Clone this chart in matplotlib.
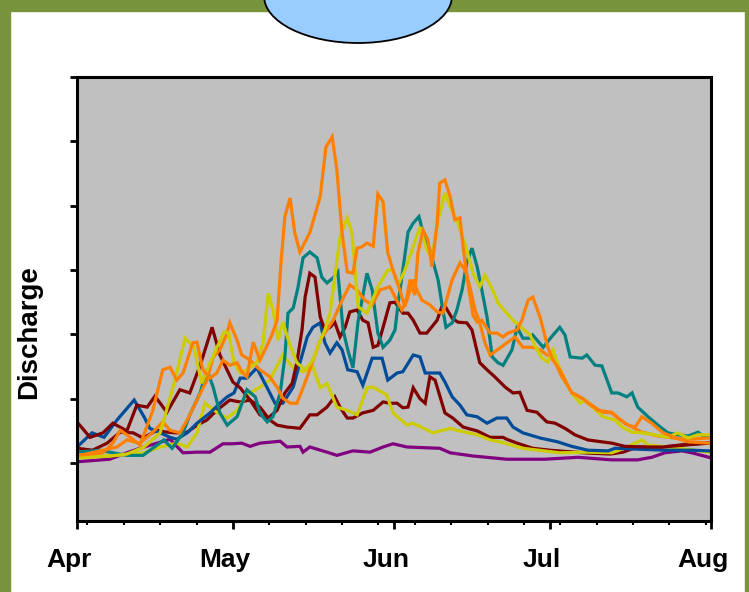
import matplotlib
matplotlib.use("Agg")
import matplotlib.pyplot as plt
from matplotlib.patches import Rectangle, Ellipse
import matplotlib.transforms as mtransforms

plt.rcParams['font.family'] = ['Liberation Sans', 'DejaVu Sans']

# x = days since April 1, y = discharge (arbitrary units, tick every 100)
month_ticks = [0, 30, 61, 91, 122]
month_labels = ["Apr", "May", "Jun", "Jul", "Aug"]
week_ticks = [2, 9, 16, 23, 37, 44, 51, 58, 65, 72, 79, 86, 93, 100, 107, 114, 121]

purple_d = [0, 6.3, 9.6, 12.1, 15.4, 17.9, 20.4, 23.1, 25.6, 28.1, 30, 31.7, 33.3, 35.2, 39.1, 40.4, 42.9, 43.5, 44.8, 48.1, 50, 53.1, 56.4, 58.9, 60.8, 63.5, 69.8, 71.8, 76.2, 82.7, 90, 96.4, 102.9, 107.9, 110.6, 113.1, 116.4, 118.3, 121.6]
purple_v = [2, 6, 16, 23, 31, 37, 16, 17, 17, 30, 30, 31, 26, 31, 34, 25, 26, 17, 25, 17, 12, 19, 17, 25, 30, 25, 23, 16, 11, 6, 6, 9, 5, 5, 9, 16, 19, 16, 9]

teal_d = [0, 4.4, 6.3, 9.6, 12.7, 15.4, 16.7, 18.3, 20.4, 21.7, 23.7, 25, 26.2, 27.5, 28.9, 30.8, 32.7, 34.3, 35.2, 36.6, 37.7, 39.1, 40, 40.6, 41.6, 42.5, 43.5, 44.8, 46.2, 47.1, 48.1, 49.3, 50.2, 51.2, 52.1, 53.1, 54.1, 55.8, 56.8, 57.9, 58.9, 60.2, 61.2, 61.8, 62.7, 63.7, 64.7, 65.8, 66.6, 67.9, 69.5, 70.4, 71, 72.2, 73.1, 74.1, 75, 76, 77, 77.9, 78.9, 79.9, 81, 82, 83.7, 84.7, 85.8, 87.2, 87.7, 89.7, 91.6, 92.9, 93.9, 94.9, 97.2, 98.1, 99.7, 101, 102.9, 104.1, 105.8, 106.8, 107.9, 109.9, 111.8, 113.7, 115.6, 117.6, 119.5, 120.5, 121.6]
teal_v = [17, 20, 17, 12, 12, 28, 36, 23, 47, 75, 109, 145, 118, 78, 59, 72, 114, 103, 78, 64, 72, 109, 165, 233, 241, 272, 319, 328, 319, 289, 280, 288, 297, 207, 176, 148, 221, 295, 269, 202, 180, 191, 207, 249, 300, 359, 373, 383, 358, 331, 284, 238, 211, 218, 238, 269, 311, 334, 305, 269, 227, 165, 156, 152, 176, 211, 194, 194, 199, 180, 199, 211, 199, 165, 163, 168, 152, 151, 109, 109, 103, 109, 87, 72, 59, 47, 44, 42, 48, 42, 40]

blue_d = [0, 2.9, 5.2, 7.7, 11, 12.9, 14, 16, 17.9, 19.2, 21.2, 23.1, 25.6, 27.5, 28.9, 30.2, 31.4, 32.7, 34.6, 36.6, 38.1, 39.6, 41.6, 42.9, 44.3, 45.4, 46.8, 47.7, 48.7, 50, 51, 52.1, 53.9, 55, 56.8, 58.7, 59.8, 61.6, 62.7, 64.7, 66, 67, 69.8, 70.8, 72.2, 73.7, 75, 77, 78.9, 80.8, 82.7, 83.9, 85.8, 89.1, 92.5, 95.2, 98.3, 102.2, 103.5, 106.8, 113.1, 118.3, 121.6]
blue_v = [25, 47, 40, 67, 98, 72, 54, 47, 40, 37, 47, 62, 78, 93, 103, 109, 132, 132, 148, 117, 93, 93, 118, 156, 196, 211, 218, 187, 171, 187, 176, 145, 142, 121, 163, 163, 129, 140, 142, 168, 165, 140, 140, 126, 103, 90, 75, 72, 62, 70, 70, 56, 47, 39, 33, 26, 20, 19, 23, 22, 20, 20, 19]

maroon1_d = [0, 2.5, 5, 6.9, 9.6, 11.5, 13.5, 15, 17.3, 19.8, 21.7, 23.7, 26, 27.5, 30, 31.4, 33.3, 35.2, 36.8, 38.5, 40, 41.4, 42.3, 43.3, 43.9, 44.8, 45.8, 46.8, 47.7, 48.7, 49.6, 50.6, 51.6, 52.5, 53.9, 55, 56, 57, 57.9, 58.9, 60.2, 61.2, 62.7, 63.7, 64.7, 66, 67.3, 69.3, 70.2, 70.8, 72.2, 73.3, 75, 76, 77.5, 78.9, 80.4, 82.4, 83.9, 85.2, 86.6, 88.5, 90.4, 92, 93.9, 95.8, 98.3, 101, 102.9, 105.4, 109.3, 112.6, 117, 121.6]
maroon1_v = [64, 40, 47, 62, 50, 90, 87, 104, 79, 114, 109, 152, 211, 168, 126, 117, 98, 75, 70, 82, 109, 124, 156, 207, 258, 295, 289, 227, 207, 211, 219, 196, 211, 235, 238, 222, 218, 180, 183, 211, 249, 250, 233, 233, 222, 202, 202, 222, 243, 244, 225, 219, 218, 207, 156, 145, 134, 118, 109, 110, 82, 79, 64, 62, 54, 44, 36, 33, 31, 26, 25, 25, 28, 31]

maroon2_d = [0, 3, 5.8, 8.3, 10.8, 12.7, 15.4, 17.3, 19.2, 21.2, 23.1, 25, 26.9, 29.4, 31.4, 33.3, 35.2, 37.1, 38.5, 40.4, 42.9, 44.8, 46.2, 48.1, 49.6, 50.6, 52, 53.1, 55, 57, 58.9, 60.2, 61.6, 62.7, 63.7, 64.7, 66, 67, 67.9, 68.9, 70.8, 72.3, 74.3, 77, 79.5, 82, 82.7, 84.7, 87.7, 91, 97.4, 102.6, 105.1, 107.8, 112.8, 118, 121.6]
maroon2_v = [23, 20, 31, 48, 47, 39, 51, 48, 47, 48, 59, 67, 82, 98, 95, 98, 87, 67, 59, 56, 54, 75, 75, 87, 103, 87, 70, 70, 78, 82, 95, 93, 93, 86, 87, 117, 100, 93, 134, 129, 78, 70, 56, 50, 40, 40, 37, 31, 23, 20, 16, 14, 17, 25, 25, 30, 31]

yellow1_d = [0, 6.3, 9.6, 12.9, 16, 18.7, 20.8, 22.5, 24, 25.6, 28.3, 29.2, 30.2, 31.4, 32.7, 34.6, 35.8, 36.8, 37.7, 38.7, 39.6, 41, 42.3, 43.9, 45.4, 46.8, 47.7, 48.7, 50.6, 52, 52.9, 54.1, 55.8, 57.9, 59.8, 60.8, 61.8, 63.1, 64.7, 66, 67.3, 68.3, 69.5, 70.8, 71.8, 73.1, 75, 76.2, 77.5, 78.5, 80, 81, 82.7, 83.9, 85.6, 87.2, 88.1, 89.5, 90.6, 91.6, 92.4, 93.9, 95.2, 96.8, 97.7, 99.3, 101.2, 103.5, 104.9, 106.8, 108.7, 111.2, 113.7, 115.6, 117.6, 119.5, 121.6]
yellow1_v = [9, 11, 14, 25, 47, 124, 194, 180, 124, 156, 204, 202, 156, 140, 145, 156, 187, 264, 238, 191, 219, 183, 156, 145, 160, 191, 207, 233, 351, 381, 358, 243, 233, 274, 300, 300, 277, 300, 336, 367, 331, 319, 378, 420, 398, 378, 331, 295, 274, 292, 269, 249, 233, 222, 210, 199, 183, 163, 157, 176, 157, 129, 109, 93, 98, 86, 72, 67, 56, 48, 47, 44, 40, 47, 39, 44, 44]

yellow2_d = [0, 6.3, 12.9, 16, 19.2, 21.2, 23.1, 24.6, 26.9, 28.9, 30.8, 32.7, 35.2, 37.1, 39.6, 41.6, 43.5, 45.4, 46.8, 48.1, 50, 52, 53.9, 55.8, 57, 59.6, 60.8, 63.5, 64.7, 68.5, 70.4, 71.8, 73.1, 77, 79.5, 81.4, 85.8, 92.9, 98.3, 102.9, 105.4, 107.4, 108.7, 109.9, 113.7, 118.9, 121.6]
yellow2_v = [8, 11, 16, 25, 31, 25, 47, 93, 79, 70, 82, 106, 118, 129, 168, 148, 142, 149, 117, 124, 87, 82, 75, 117, 118, 106, 78, 59, 62, 47, 51, 54, 51, 44, 36, 33, 23, 16, 17, 16, 23, 31, 36, 28, 25, 20, 17]

orange1_d = [0, 5, 6.9, 8.3, 9.6, 12.1, 14.6, 16.5, 17.9, 19.2, 20.4, 22.3, 23.1, 24.2, 25.6, 26.9, 28.1, 29.4, 30.8, 31.7, 32.7, 33.9, 35.2, 36.6, 37.5, 38.5, 39.3, 40, 41, 41.9, 42.9, 44.8, 46.8, 47.9, 49.1, 50, 51, 52, 53.1, 53.9, 54.8, 55.8, 57, 57.9, 58.9, 59.8, 60.8, 61.8, 63.1, 64.1, 65, 65.6, 66.6, 67.5, 68.3, 69.3, 69.8, 70.8, 71.8, 72.7, 73.7, 74.3, 75.2, 76.2, 77, 77.9, 79.5, 80.8, 82, 82.9, 84.7, 85.6, 86.8, 87.7, 89.1, 90.6, 91.6, 92.9, 95.2, 97.2, 98.3, 100.3, 102.9, 104.1, 106, 107.4, 108.7, 110.6, 112.6, 115.1, 117.6, 121.6]
orange1_v = [12, 16, 31, 51, 44, 28, 82, 145, 149, 129, 140, 187, 188, 145, 132, 140, 160, 152, 156, 142, 134, 188, 160, 183, 199, 222, 316, 383, 412, 358, 328, 358, 414, 491, 507, 456, 358, 297, 295, 334, 336, 342, 337, 418, 406, 327, 300, 277, 243, 285, 261, 327, 362, 347, 305, 373, 435, 440, 414, 378, 381, 336, 280, 230, 219, 222, 202, 202, 196, 202, 207, 222, 253, 258, 227, 180, 160, 145, 109, 101, 93, 82, 79, 70, 59, 56, 72, 62, 48, 39, 33, 31]

orange2_d = [0, 7.7, 9.6, 12.1, 14.6, 16.5, 17.9, 19.8, 21.2, 23.1, 25, 26.2, 27.5, 28.9, 29.4, 30.8, 31.7, 33.3, 35.2, 37.1, 38.5, 39.6, 41, 42.3, 43.5, 44.8, 46.8, 48.1, 49.3, 51, 52.5, 53.9, 55.4, 56.8, 58.3, 60.2, 61.2, 62.5, 63.5, 64.7, 65.4, 66.4, 67.9, 69.3, 70.4, 72.2, 73.7, 74.7, 75.6, 76.6, 77.5, 78.5, 79.5, 81.4, 82.9, 84.3, 85.8, 87.7, 89.1, 91, 92, 93.3, 95.2, 97.7, 101, 102.9, 105.4, 108.7, 111.8, 117, 121.6]
orange2_v = [11, 25, 36, 31, 48, 64, 51, 47, 67, 98, 129, 165, 176, 202, 218, 191, 168, 160, 145, 134, 118, 101, 93, 93, 117, 145, 191, 207, 222, 253, 277, 269, 253, 246, 269, 274, 258, 238, 253, 285, 269, 253, 246, 235, 233, 285, 311, 300, 274, 238, 218, 187, 168, 179, 188, 196, 180, 180, 176, 165, 157, 134, 110, 98, 79, 78, 62, 48, 42, 37, 39]

series = [
    (purple_d, purple_v, "#800080"),
    (maroon2_d, maroon2_v, "#800000"),
    (yellow2_d, yellow2_v, "#CCCC00"),
    (blue_d, blue_v, "#004C99"),
    (maroon1_d, maroon1_v, "#800000"),
    (teal_d, teal_v, "#008080"),
    (orange2_d, orange2_v, "#FF8000"),
    (yellow1_d, yellow1_v, "#CCCC00"),
    (orange1_d, orange1_v, "#FF8000"),
]

W, H = 749, 592
fig = plt.figure(figsize=(W / 100, H / 100), dpi=100)
fig.patch.set_facecolor("white")

green = "#77933C"
fig.patches.append(Rectangle((0, 0), 10 / W, 1, transform=fig.transFigure, color=green, zorder=0))
fig.patches.append(Rectangle((0, 1 - 11 / H), 1, 11 / H, transform=fig.transFigure, color=green, zorder=0))
fig.patches.append(Rectangle((1 - 4 / W, 0), 4 / W, 1, transform=fig.transFigure, color=green, zorder=0))
fig.patches.append(Ellipse((358 / W, 1 + 4 / H), 188 / W, 94 / H, transform=fig.transFigure,
                           facecolor="#99CCFF", edgecolor="black", linewidth=1.3, zorder=1))

ax = fig.add_axes([77 / W, 1 - 521 / H, (711 - 77) / W, (521 - 77) / H])
ax.set_facecolor("#C0C0C0")

for d, v, c in series:
    ax.plot(d, v, color=c, linewidth=2.3, solid_joinstyle="miter")

ax.set_xlim(0, 122)
ax.set_ylim(-90, 600)
ax.set_yticks([0, 100, 200, 300, 400, 500, 600])
ax.set_yticklabels([])
ax.set_xticks(month_ticks)
ax.set_xticklabels(month_labels, fontsize=19, fontweight="bold")
ax.set_xticks(week_ticks, minor=True)
ax.tick_params(axis="y", direction="out", length=5, width=2, color="black")
ax.tick_params(axis="x", which="major", direction="out", length=6, width=2, pad=13.5)
ax.tick_params(axis="x", which="minor", direction="out", length=3, width=1.5)

offset = mtransforms.ScaledTranslation(-8 / 100, 0, fig.dpi_scale_trans)
for lab in ax.get_xticklabels():
    lab.set_transform(lab.get_transform() + offset)

for s in ax.spines.values():
    s.set_linewidth(2.2)
    s.set_color("black")

ax.set_ylabel("Discharge", fontsize=20, fontweight="bold")
ax.yaxis.set_label_coords((42 - 77) / (711 - 77), (521 - 332) / (521 - 77))

fig.savefig("out.png", dpi=100)
